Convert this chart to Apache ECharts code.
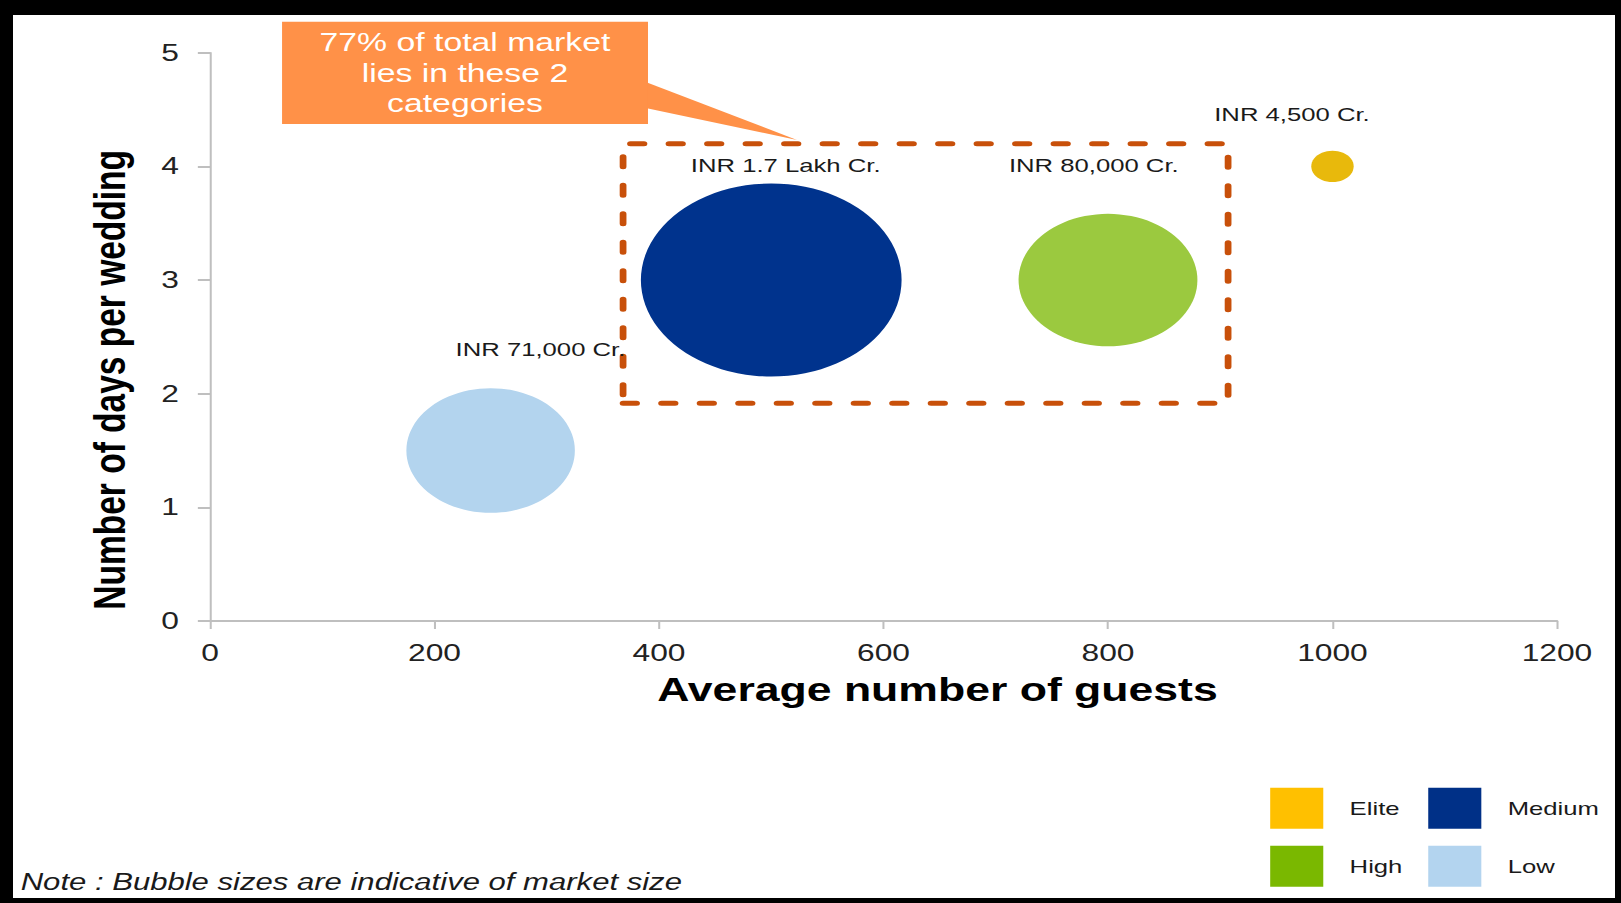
<!DOCTYPE html>
<html><head><meta charset="utf-8">
<script src="https://cdn.jsdelivr.net/npm/echarts@6/dist/echarts.min.js"></script>
<style>
html,body{margin:0;padding:0;background:#fff;overflow:hidden;width:1621px;height:903px}
#chart{position:absolute;left:0;top:0;width:1200px;height:903px;transform:scaleX(1.3508333);transform-origin:0 0}
#frame{position:absolute;left:0;top:0;width:1621px;height:903px;box-sizing:border-box;border-style:solid;border-color:#000;border-width:15px 6px 5px 13px;pointer-events:none}
</style></head><body>
<div id="chart"></div><div id="frame"></div>
<script>
// ---- data ----
const categories = ['Elite', 'Medium', 'High', 'Low'];
const avgGuests = [1000, 500, 800, 250];
const daysPerWedding = [4, 3, 3, 1.5];
const marketSizeCr = [4500, 170000, 80000, 71000];
const marketLabels = ['INR 4,500 Cr.', 'INR 1.7 Lakh Cr.', 'INR 80,000 Cr.', 'INR 71,000 Cr.'];
const xTicks = [0, 200, 400, 600, 800, 1000, 1200];
const yTicks = [0, 1, 2, 3, 4, 5];
const highlightGuests = [368, 907];
const highlightDays = [1.915, 4.2];
const calloutLines = ['77% of total market', 'lies in these 2', 'categories'];
const noteText = 'Note : Bubble sizes are indicative of market size';
const xName = 'Average number of guests';
const yName = 'Number of days per wedding';

// ---- styles ----
const FONT = '"Liberation Sans", Arial, sans-serif';
const SIZE_K = 193 / Math.sqrt(170000);
const bubbleColors = { Elite: '#E8B90C', Medium: '#00338D', High: '#9BC93F', Low: '#B3D4EE' };
const legendColors = { Elite: '#FFC000', Medium: '#003087', High: '#7AB800', Low: '#B3D4EF' };
const labelOffsets = { Elite: [-30, -51.6], Medium: [10.7, -114.5], High: [-10.5, -114.5], Low: [36.9, -100.9] };
const axisGray = '#BFBFBF';
const textDark = '#1a1a1a';
const ORANGE = '#FF9148';

const chart = echarts.init(document.getElementById('chart'), null, { renderer: 'svg' });

const series = categories.map((c, i) => {
  const s = {
    type: 'scatter',
    name: c,
    data: [[avgGuests[i], daysPerWedding[i], marketSizeCr[i]]],
    symbolSize: v => SIZE_K * Math.sqrt(v[2]),
    itemStyle: { color: bubbleColors[c], opacity: 1 },
    label: {
      show: true, position: 'inside', offset: labelOffsets[c],
      formatter: marketLabels[i], fontSize: 19, color: textDark,
      fontFamily: FONT, textBorderWidth: 0
    },
    emphasis: { disabled: true },
    silent: true
  };
  if (c === 'Medium') {
    s.markArea = {
      silent: true,
      label: { show: false },
      itemStyle: {
        color: 'rgba(0,0,0,0)', borderColor: '#C8500A', borderWidth: 5,
        borderType: [10, 18.5], borderCap: 'round'
      },
      data: [[
        { xAxis: highlightGuests[0], yAxis: highlightDays[0] },
        { xAxis: highlightGuests[1], yAxis: highlightDays[1] }
      ]]
    };
  }
  return s;
});

const legendItem = name => ({ name, itemStyle: { color: legendColors[name], opacity: 1, borderWidth: 0 } });
const legendBase = {
  orient: 'vertical', top: 787.7, itemWidth: 39.3, itemHeight: 41, itemGap: 17,
  icon: 'rect', padding: 0, selectedMode: false,
  textStyle: { fontSize: 19, color: textDark, fontFamily: FONT, padding: [0, 0, 0, 14.5] }
};

chart.setOption({
  animation: false,
  textStyle: { fontFamily: FONT },
  title: {
    text: noteText, left: 15.3, top: 871, padding: 0,
    textStyle: { fontSize: 23, fontStyle: 'italic', fontWeight: 'normal', color: textDark, fontFamily: FONT }
  },
  legend: [
    Object.assign({}, legendBase, { left: 940.3, data: [legendItem('Elite'), legendItem('High')] }),
    Object.assign({}, legendBase, { left: 1057.3, data: [legendItem('Medium'), legendItem('Low')] })
  ],
  grid: { left: 155.46, right: 47.4, top: 52.7, bottom: 282, containLabel: false },
  xAxis: {
    type: 'value', min: xTicks[0], max: xTicks[xTicks.length - 1], interval: xTicks[1] - xTicks[0],
    splitLine: { show: false },
    axisLine: { show: true, lineStyle: { color: axisGray, width: 2 } },
    axisTick: { show: true, length: 8, lineStyle: { color: axisGray, width: 1.5 } },
    axisLabel: { fontSize: 23.5, color: '#222', margin: 20, fontFamily: FONT, formatter: v => String(v) },
    name: xName, nameLocation: 'middle', nameGap: 52,
    nameTextStyle: { fontSize: 33, fontWeight: 'bold', color: '#000', fontFamily: FONT, padding: [0, 0, 0, 80] }
  },
  yAxis: {
    type: 'value', min: yTicks[0], max: yTicks[yTicks.length - 1], interval: yTicks[1] - yTicks[0],
    splitLine: { show: false },
    axisLine: { show: true, lineStyle: { color: axisGray, width: 1.5 } },
    axisTick: { show: true, length: 9, lineStyle: { color: axisGray, width: 2 } },
    axisLabel: { fontSize: 23.5, color: '#222', margin: 23, fontFamily: FONT, formatter: v => String(v) },
    name: yName, nameLocation: 'middle', nameGap: 58,
    nameTextStyle: { fontSize: 33.5, fontWeight: 'bold', color: '#000', fontFamily: FONT, padding: [0, 86, 0, 0] }
  },
  graphic: [
    { type: 'polygon', shape: { points: [[478, 82], [590, 140], [478, 108]] }, style: { fill: ORANGE }, silent: true },
    { type: 'rect', shape: { x: 208.8, y: 21.7, width: 270.9, height: 102.3 }, style: { fill: ORANGE }, silent: true },
    { type: 'text', x: 344.2, y: 72.9, silent: true,
      style: { text: calloutLines.join('\n'), align: 'center', verticalAlign: 'middle',
               fontSize: 25, lineHeight: 30.5, fill: '#fff', fontFamily: FONT } }
  ],
  series
});
</script></body></html>
